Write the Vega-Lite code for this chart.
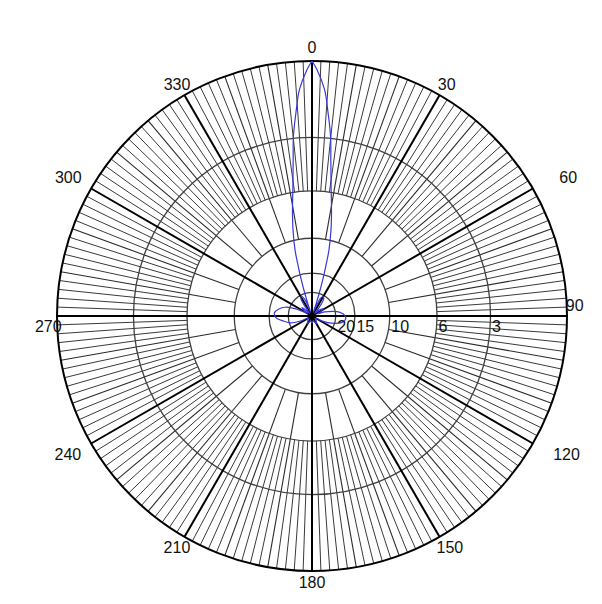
{
  "$schema": "https://vega.github.io/schema/vega-lite/v6.json",
  "width": 510,
  "height": 510,
  "autosize": {"type": "none"},
  "padding": {"left": 57, "top": 61, "right": 35, "bottom": 33},
  "background": "white",
  "config": {"view": {"stroke": null}, "text": {"font": "Liberation Sans"}},
  "datasets": {
    "thick": [{"a":0},{"a":30},{"a":60},{"a":90},{"a":120},{"a":150},{"a":180},{"a":210},{"a":240},{"a":270},{"a":300},{"a":330}],
    "mid": [{"a":10},{"a":20},{"a":40},{"a":50},{"a":70},{"a":80},{"a":100},{"a":110},{"a":130},{"a":140},{"a":160},{"a":170},{"a":190},{"a":200},{"a":220},{"a":230},{"a":250},{"a":260},{"a":280},{"a":290},{"a":310},{"a":320},{"a":340},{"a":350}],
    "fine": [{"a":2},{"a":4},{"a":6},{"a":8},{"a":12},{"a":14},{"a":16},{"a":18},{"a":22},{"a":24},{"a":26},{"a":28},{"a":32},{"a":34},{"a":36},{"a":38},{"a":42},{"a":44},{"a":46},{"a":48},{"a":52},{"a":54},{"a":56},{"a":58},{"a":62},{"a":64},{"a":66},{"a":68},{"a":72},{"a":74},{"a":76},{"a":78},{"a":82},{"a":84},{"a":86},{"a":88},{"a":92},{"a":94},{"a":96},{"a":98},{"a":102},{"a":104},{"a":106},{"a":108},{"a":112},{"a":114},{"a":116},{"a":118},{"a":122},{"a":124},{"a":126},{"a":128},{"a":132},{"a":134},{"a":136},{"a":138},{"a":142},{"a":144},{"a":146},{"a":148},{"a":152},{"a":154},{"a":156},{"a":158},{"a":162},{"a":164},{"a":166},{"a":168},{"a":172},{"a":174},{"a":176},{"a":178},{"a":182},{"a":184},{"a":186},{"a":188},{"a":192},{"a":194},{"a":196},{"a":198},{"a":202},{"a":204},{"a":206},{"a":208},{"a":212},{"a":214},{"a":216},{"a":218},{"a":222},{"a":224},{"a":226},{"a":228},{"a":232},{"a":234},{"a":236},{"a":238},{"a":242},{"a":244},{"a":246},{"a":248},{"a":252},{"a":254},{"a":256},{"a":258},{"a":262},{"a":264},{"a":266},{"a":268},{"a":272},{"a":274},{"a":276},{"a":278},{"a":282},{"a":284},{"a":286},{"a":288},{"a":292},{"a":294},{"a":296},{"a":298},{"a":302},{"a":304},{"a":306},{"a":308},{"a":312},{"a":314},{"a":316},{"a":318},{"a":322},{"a":324},{"a":326},{"a":328},{"a":332},{"a":334},{"a":336},{"a":338},{"a":342},{"a":344},{"a":346},{"a":348},{"a":352},{"a":354},{"a":356},{"a":358}],
    "rings": [{"db":3},{"db":6},{"db":10},{"db":15},{"db":20}],
    "outer": [{"db":0}],
    "angleLabels": [
      {"t":"0","a":0,"r":1.051},{"t":"30","a":30.3,"r":1.047},{"t":"60","a":61.7,"r":1.141},{"t":"90","a":87.8,"r":1.031},
      {"t":"120","a":118.6,"r":1.137},{"t":"150","a":149.3,"r":1.059},{"t":"180","a":180,"r":1.047},{"t":"210","a":210.2,"r":1.053},
      {"t":"240","a":240.3,"r":1.102},{"t":"270","a":267.6,"r":1.035},{"t":"300","a":299.5,"r":1.098},{"t":"330","a":329.7,"r":1.049}
    ],
    "dbLabels": [{"t":"20","db":20},{"t":"15","db":15},{"t":"10","db":10},{"t":"6","db":6},{"t":"3","db":3}],
    "pattern": [
      {"a":0,"db":0},{"a":1.2,"db":0.3},{"a":3.2,"db":1.0},{"a":4.4,"db":1.8},{"a":5.9,"db":2.9},{"a":6.9,"db":4.1},{"a":8.6,"db":5.8},{"a":10.5,"db":7.3},{"a":12.5,"db":9.0},{"a":14.4,"db":11.1},{"a":15.5,"db":13.5},{"a":16.5,"db":16},{"a":17.5,"db":19.5},{"a":18.5,"db":25},{"a":19.5,"db":35},
      {"a":22,"db":28},{"a":26,"db":21.5},{"a":30,"db":20.5},{"a":34,"db":21},{"a":38,"db":24},{"a":42,"db":30},{"a":45,"db":36},
      {"a":50,"db":28},{"a":58,"db":24.5},{"a":64,"db":28},{"a":68,"db":32},{"a":72,"db":25},{"a":80,"db":19.5},{"a":88,"db":17.4},{"a":95,"db":17},{"a":102,"db":17.8},{"a":110,"db":21},{"a":116,"db":26},{"a":120,"db":34},
      {"a":135,"db":32},{"a":150,"db":28},{"a":165,"db":33},{"a":180,"db":30},{"a":195,"db":33},{"a":210,"db":28},{"a":225,"db":32},{"a":240,"db":34},
      {"a":246,"db":26},{"a":252,"db":20.5},{"a":260,"db":18.3},{"a":268,"db":16.4},{"a":275,"db":16.1},{"a":282,"db":17},{"a":288,"db":18.5},{"a":294,"db":22.5},{"a":300,"db":32},
      {"a":304,"db":28},{"a":310,"db":25},{"a":316,"db":32},{"a":320,"db":35},{"a":324,"db":25},{"a":328,"db":21},{"a":332,"db":20.5},{"a":336,"db":22},{"a":339,"db":28},{"a":340.5,"db":35},
      {"a":341.5,"db":25},{"a":342.5,"db":19.5},{"a":343.5,"db":16},{"a":344.5,"db":13.5},{"a":345.6,"db":11.1},{"a":347.5,"db":9.0},{"a":349.5,"db":7.3},{"a":351.4,"db":5.8},{"a":353.1,"db":4.1},{"a":354.1,"db":2.9},{"a":355.6,"db":1.8},{"a":356.8,"db":1.0},{"a":358.8,"db":0.3},{"a":360,"db":0}
    ]
  },
  "layer": [
    {
      "data": {"name": "fine"},
      "transform": [
        {"calculate": "0.49*sin(datum.a*PI/180)", "as": "x1"},
        {"calculate": "0.49*cos(datum.a*PI/180)", "as": "y1"},
        {"calculate": "sin(datum.a*PI/180)", "as": "x2"},
        {"calculate": "cos(datum.a*PI/180)", "as": "y2"}
      ],
      "mark": {"type": "rule", "stroke": "#3a3a3a", "strokeWidth": 1},
      "encoding": {
        "x": {"field": "x1", "type": "quantitative", "scale": {"domain": [-1, 1], "nice": false, "zero": false}, "axis": null},
        "y": {"field": "y1", "type": "quantitative", "scale": {"domain": [-1, 1], "nice": false, "zero": false}, "axis": null},
        "x2": {"field": "x2"},
        "y2": {"field": "y2"}
      }
    },
    {
      "data": {"name": "mid"},
      "transform": [
        {"calculate": "0.305*sin(datum.a*PI/180)", "as": "x1"},
        {"calculate": "0.305*cos(datum.a*PI/180)", "as": "y1"},
        {"calculate": "sin(datum.a*PI/180)", "as": "x2"},
        {"calculate": "cos(datum.a*PI/180)", "as": "y2"}
      ],
      "mark": {"type": "rule", "stroke": "#2a2a2a", "strokeWidth": 1.1},
      "encoding": {
        "x": {"field": "x1", "type": "quantitative", "scale": {"domain": [-1, 1], "nice": false, "zero": false}, "axis": null},
        "y": {"field": "y1", "type": "quantitative", "scale": {"domain": [-1, 1], "nice": false, "zero": false}, "axis": null},
        "x2": {"field": "x2"},
        "y2": {"field": "y2"}
      }
    },
    {
      "data": {"name": "rings"},
      "transform": [{"calculate": "pow(0.888, datum.db)", "as": "r"}],
      "mark": {"type": "point", "shape": "circle", "filled": false, "stroke": "#404040", "strokeWidth": 1.3, "opacity": 1},
      "encoding": {
        "x": {"datum": 0, "type": "quantitative", "scale": {"domain": [-1, 1], "nice": false, "zero": false}, "axis": null},
        "y": {"datum": 0, "type": "quantitative", "scale": {"domain": [-1, 1], "nice": false, "zero": false}, "axis": null},
        "size": {"field": "r", "type": "quantitative", "legend": null, "scale": {"type": "pow", "exponent": 2, "domain": [0, 1], "range": [0, 260100], "zero": true}}
      }
    },
    {
      "data": {"name": "thick"},
      "transform": [
        {"calculate": "0", "as": "x1"},
        {"calculate": "0", "as": "y1"},
        {"calculate": "sin(datum.a*PI/180)", "as": "x2"},
        {"calculate": "cos(datum.a*PI/180)", "as": "y2"}
      ],
      "mark": {"type": "rule", "stroke": "#000000", "strokeWidth": 2},
      "encoding": {
        "x": {"field": "x1", "type": "quantitative", "scale": {"domain": [-1, 1], "nice": false, "zero": false}, "axis": null},
        "y": {"field": "y1", "type": "quantitative", "scale": {"domain": [-1, 1], "nice": false, "zero": false}, "axis": null},
        "x2": {"field": "x2"},
        "y2": {"field": "y2"}
      }
    },
    {
      "data": {"name": "outer"},
      "transform": [{"calculate": "pow(0.888, datum.db)", "as": "r"}],
      "mark": {"type": "point", "shape": "circle", "filled": false, "stroke": "#000000", "strokeWidth": 2, "opacity": 1},
      "encoding": {
        "x": {"datum": 0, "type": "quantitative", "scale": {"domain": [-1, 1], "nice": false, "zero": false}, "axis": null},
        "y": {"datum": 0, "type": "quantitative", "scale": {"domain": [-1, 1], "nice": false, "zero": false}, "axis": null},
        "size": {"field": "r", "type": "quantitative", "legend": null, "scale": {"type": "pow", "exponent": 2, "domain": [0, 1], "range": [0, 260100], "zero": true}}
      }
    },
    {
      "data": {"name": "pattern"},
      "transform": [
        {"calculate": "pow(0.888, datum.db)", "as": "r"},
        {"calculate": "datum.r*sin(datum.a*PI/180)", "as": "x"},
        {"calculate": "datum.r*cos(datum.a*PI/180)", "as": "y"}
      ],
      "mark": {"type": "line", "stroke": "#3838d8", "strokeWidth": 1.2, "interpolate": "catmull-rom"},
      "encoding": {
        "x": {"field": "x", "type": "quantitative", "scale": {"domain": [-1, 1], "nice": false, "zero": false}, "axis": null},
        "y": {"field": "y", "type": "quantitative", "scale": {"domain": [-1, 1], "nice": false, "zero": false}, "axis": null},
        "order": {"field": "a", "type": "quantitative"}
      }
    },
    {
      "data": {"name": "angleLabels"},
      "transform": [
        {"calculate": "datum.r*sin(datum.a*PI/180)", "as": "x"},
        {"calculate": "datum.r*cos(datum.a*PI/180)", "as": "y"}
      ],
      "mark": {"type": "text", "fontSize": 16, "align": "center", "baseline": "middle", "color": "#111"},
      "encoding": {
        "x": {"field": "x", "type": "quantitative", "scale": {"domain": [-1, 1], "nice": false, "zero": false}, "axis": null},
        "y": {"field": "y", "type": "quantitative", "scale": {"domain": [-1, 1], "nice": false, "zero": false}, "axis": null},
        "text": {"field": "t"}
      }
    },
    {
      "data": {"name": "dbLabels"},
      "transform": [
        {"calculate": "pow(0.888, datum.db) + 0.006", "as": "x"},
        {"calculate": "-0.043", "as": "y"}
      ],
      "mark": {"type": "text", "fontSize": 16, "align": "left", "baseline": "middle", "color": "#111"},
      "encoding": {
        "x": {"field": "x", "type": "quantitative", "scale": {"domain": [-1, 1], "nice": false, "zero": false}, "axis": null},
        "y": {"field": "y", "type": "quantitative", "scale": {"domain": [-1, 1], "nice": false, "zero": false}, "axis": null},
        "text": {"field": "t"}
      }
    }
  ]
}
